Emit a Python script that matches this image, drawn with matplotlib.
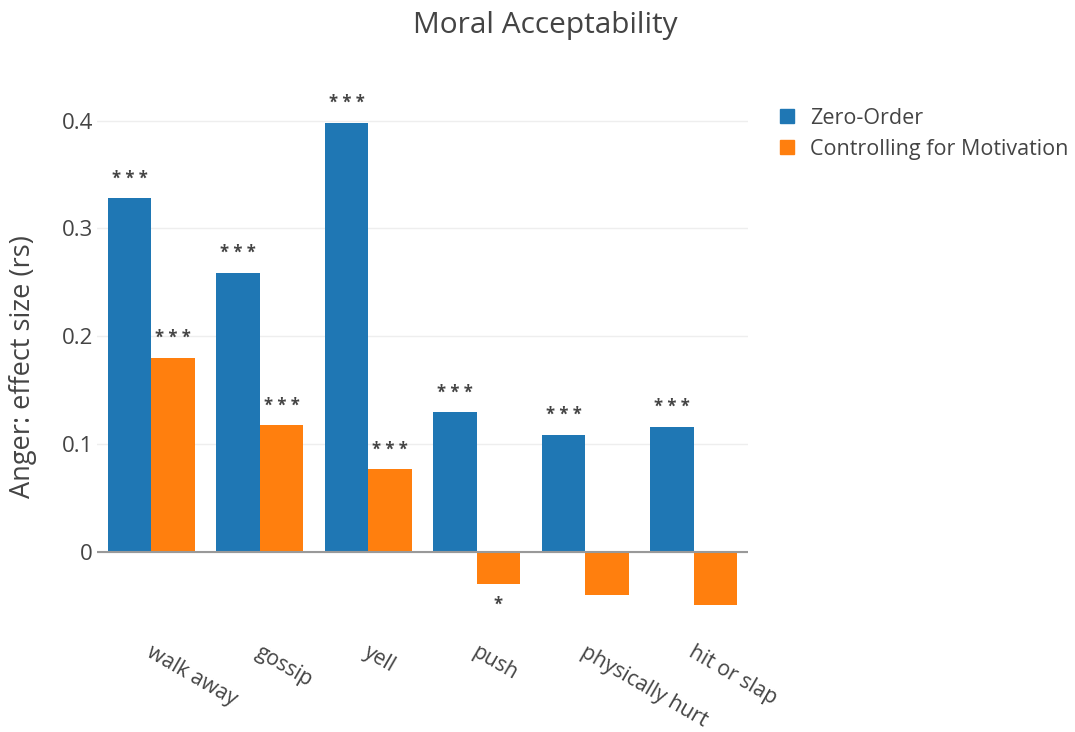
import matplotlib
matplotlib.use("Agg")
import matplotlib.pyplot as plt
import matplotlib.transforms as mtransforms
from matplotlib.lines import Line2D
import numpy as np

categories = ["walk away", "gossip", "yell", "push", "physically hurt", "hit or slap"]
zero_order = [0.328, 0.259, 0.398, 0.1295, 0.1086, 0.1159]
controlling = [0.180, 0.1175, 0.0766, -0.0305, -0.0404, -0.0501]
zero_sig = ["***", "***", "***", "***", "***", "***"]
ctrl_sig = ["***", "***", "***", "*", "", ""]
series_names = ["Zero-Order", "Controlling for Motivation"]
title = "Moral Acceptability"
ylabel = "Anger: effect size (rs)"
yticks = [0, 0.1, 0.2, 0.3, 0.4]
yticklabels = ["0", "0.1", "0.2", "0.3", "0.4"]

plt.rcParams["font.family"] = ["Open Sans", "DejaVu Sans"]
BLUE = "#1f77b4"
ORANGE = "#ff7f0e"
TXT = "#444444"

W, H = 1075, 732
fig = plt.figure(figsize=(W / 100, H / 100), dpi=100)
left_px, right_px = 97, 748
top_px, bot_px = 99.2, 614
ax = fig.add_axes([left_px / W, 1 - bot_px / H, (right_px - left_px) / W, (bot_px - top_px) / H])

x = np.arange(len(categories))
bw = 0.4
ax.bar(x - bw / 2, zero_order, width=bw, color=BLUE, label=series_names[0], zorder=3)
ax.bar(x + bw / 2, controlling, width=bw, color=ORANGE, label=series_names[1], zorder=3)

ax.set_xlim(-0.5, len(categories) - 0.5)
ax.set_ylim(-0.058, 0.42)

for s in ax.spines.values():
    s.set_visible(False)
ax.set_yticks(yticks)
ax.set_yticklabels(yticklabels)
ax.tick_params(axis="y", length=0, pad=3, labelsize=16, labelcolor=TXT)
ax.grid(axis="y", color="#eeeeee", linewidth=1, zorder=0)
ax.axhline(0, color="#999999", linewidth=1.5, zorder=4)
ax.set_xticks([])


def star_text(s):
    return " ".join(s)


# annotations
for i in range(len(categories)):
    ax.annotate(star_text(zero_sig[i]), (x[i] - bw / 2, zero_order[i]), xytext=(0, 14),
                textcoords="offset points", ha="center", va="center",
                fontsize=12, color=TXT, fontweight="bold")
    if ctrl_sig[i]:
        if controlling[i] >= 0:
            ax.annotate(star_text(ctrl_sig[i]), (x[i] + bw / 2, controlling[i]), xytext=(0, 14),
                        textcoords="offset points", ha="center", va="center",
                        fontsize=12, color=TXT, fontweight="bold")
        else:
            ax.annotate(star_text(ctrl_sig[i]), (x[i] + bw / 2, controlling[i]), xytext=(0, -15),
                        textcoords="offset points", ha="center", va="center",
                        fontsize=12, color=TXT, fontweight="bold")

# rotated category labels
trans = mtransforms.blended_transform_factory(ax.transData, ax.transAxes)
for i, c in enumerate(categories):
    t = mtransforms.offset_copy(trans, fig=fig, x=2, y=-28, units="dots")
    ax.text(x[i], 0, c, transform=t, rotation=-30, rotation_mode="anchor",
            ha="left", va="top", fontsize=15.2, color=TXT)

ax.set_ylabel(ylabel, fontsize=19.5, color=TXT, va="center")
ax.yaxis.set_label_coords((23 - left_px) / (right_px - left_px), (bot_px - 367) / (bot_px - top_px))

fig.text(545 / W, 1 - 25 / H, title, ha="center", va="center", fontsize=21.5, color=TXT)

handles = [Line2D([], [], marker="s", linestyle="none", markersize=10, color=BLUE),
           Line2D([], [], marker="s", linestyle="none", markersize=10, color=ORANGE)]
fig.legend(handles, series_names, loc="upper left", bbox_to_anchor=(776 / W, 1 - 108 / H),
           frameon=False, fontsize=15.5, labelcolor=TXT, handlelength=1.0,
           handletextpad=0.6, labelspacing=0.45, borderaxespad=0, borderpad=0)

fig.savefig("out.png", dpi=100)
